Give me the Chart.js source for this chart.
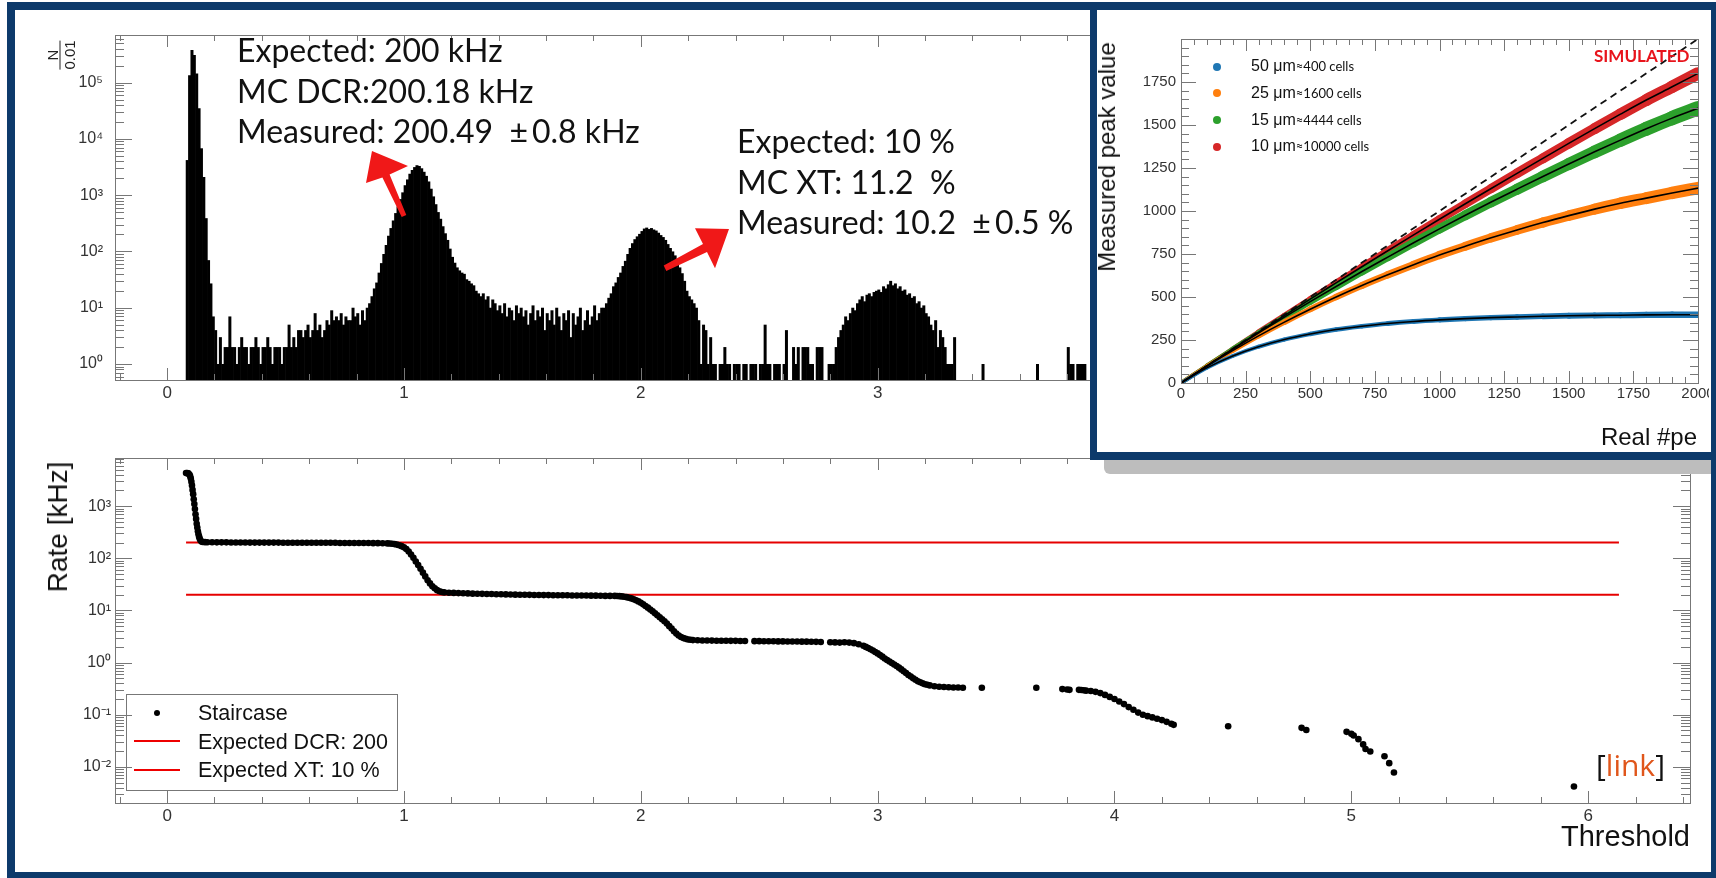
<!DOCTYPE html>
<html>
<head>
<meta charset="utf-8">
<script src="https://cdn.jsdelivr.net/npm/chart.js@4.4.1/dist/chart.umd.min.js"></script>
<style>
  body { margin: 0; background: #fff; }
  #page { position: relative; width: 1716px; height: 878px; overflow: hidden; background: #fff;
          font-family: 'Liberation Sans', Arial, sans-serif; color: #111; }
  .abs { position: absolute; white-space: nowrap; }
  .rot { transform: translate(-50%, -50%) rotate(-90deg); }
  .note { font-family: Lato, sans-serif; font-size: 32px; line-height: 40.5px; color: #111; }
  #frame { left: 7px; top: 2px; width: 1709px; height: 876px; box-sizing: border-box;
           border: solid #0d3a6b; border-width: 8px 5px 6px 8px; }
  #shadow { left: 1104px; top: 452px; width: 612px; height: 22px; background: #bdbdbd; border-bottom-left-radius: 6px; }
  #insetBox { left: 1090px; top: 2px; width: 626px; height: 458px; box-sizing: border-box; background: #fff;
              border: solid #0d3a6b; border-width: 7px 5px 8px 7px; }
  .leg { font-size: 21.5px; line-height: 22px; color: #111; }
  .pe { font-size: 16px; line-height: 20px; color: #111; }
  .pe small { font-family: Lato, sans-serif; font-size: 13px; }
  .dot { width: 8px; height: 8px; border-radius: 50%; }
</style>
</head>
<body>
<div id="page">
  <canvas id="hist" class="abs" style="left:0;top:0" width="1716" height="430"></canvas>
  <canvas id="stair" class="abs" style="left:0;top:430px" width="1716" height="448"></canvas>

  <!-- red hand-drawn arrows -->
  <svg class="abs" style="left:0;top:0" width="1716" height="430">
    <polygon fill="#f01818" points="401.7,217 382.4,177.6 366,183 372,151 408,166 389.6,174.4 406.3,215"/>
    <polygon fill="#f01818" points="663.7,265.6 703,244 695,228.3 729,229 715,268.3 707,252 666.3,271"/>
  </svg>

  <div class="abs rot" style="left:60px;top:55px;font-size:15px;color:#222">
    <div style="display:inline-flex;flex-direction:column;align-items:center;line-height:15px">
      <span>N</span><span style="border-top:1.5px solid #222;padding-top:1px">0.01</span>
    </div>
  </div>

  <div class="abs note" style="left:237px;top:30px">
    Expected: 200 kHz<br>MC DCR:200.18 kHz<br>Measured: 200.49&nbsp; ±&#8201;0.8 kHz
  </div>
  <div class="abs note" style="left:737px;top:121px">
    Expected: 10 %<br>MC XT: 11.2&nbsp; %<br>Measured: 10.2&nbsp; ±&#8201;0.5 %
  </div>

  <div class="abs rot" style="left:58px;top:527px;font-size:28px">Rate [kHz]</div>
  <div class="abs" style="right:26px;top:822px;font-size:29px;line-height:29px">Threshold</div>

  <!-- staircase legend -->
  <div class="abs" style="left:126px;top:694px;width:272px;height:97px;box-sizing:border-box;border:1.5px solid #777"></div>
  <div class="abs" style="left:153.7px;top:709.7px;width:6.6px;height:6.6px;border-radius:50%;background:#000"></div>
  <div class="abs" style="left:134px;top:740px;width:46px;height:2px;background:#e00"></div>
  <div class="abs" style="left:134px;top:769px;width:46px;height:2px;background:#e00"></div>
  <div class="abs leg" style="left:198px;top:701.7px">Staircase</div>
  <div class="abs leg" style="left:198px;top:730.7px">Expected DCR: 200</div>
  <div class="abs leg" style="left:198px;top:759.2px">Expected XT: 10 %</div>

  <div class="abs" style="left:1596px;top:750px;font-family:'Open Sans',sans-serif;font-size:30px;line-height:30px;color:#111">[<span style="color:#e0561b">link</span>]</div>

  <!-- inset -->
  <div id="shadow" class="abs"></div>
  <div id="insetBox" class="abs"></div>
  <canvas id="peak" class="abs" style="left:1097px;top:9px" width="612" height="443"></canvas>
  <div class="abs rot" style="left:1107px;top:157px;font-size:24px">Measured peak value</div>
  <div class="abs" style="right:19px;top:425px;font-size:24px;line-height:24px">Real #pe</div>
  <div class="abs" style="left:1594px;top:47px;font-family:Lato,sans-serif;font-weight:bold;font-size:17px;line-height:17px;color:#e8141c">SIMULATED</div>
  <div id="peLegend"></div>

  <div id="frame" class="abs"></div>
</div>

<script>
// ---- histogram (top) : counts per 0.01 bin, first bin starts at 0.08
var histStart = 0.08;
var histBin = 0.01;
var histCounts = [
  4200, 135000, 380000, 310000, 145000, 35000, 6800, 2100, 390, 70,   // 0.08
  27, 7, 4, 1, 3, 1, 2, 2, 7, 2,                                      // 0.18
  2, 1, 2, 3, 2, 2, 1, 2, 2, 3,                                       // 0.28
  2, 1, 2, 2, 3, 2, 1, 2, 2, 2,                                       // 0.38
  1, 2, 2, 5, 2, 3, 2, 4, 4, 3,                                       // 0.48
  4, 5, 3, 4, 8, 4, 5, 3, 4, 6,                                       // 0.58
  5, 9, 6, 7, 6, 8, 5, 7, 6, 6,                                       // 0.68
  10, 7, 8, 5, 9, 6, 10, 12, 16, 22,                                  // 0.78
  28, 42, 62, 90, 130, 190, 260, 355, 480, 630,                       // 0.88
  850, 1120, 1500, 1900, 2400, 2800, 3150, 3400, 3300, 3000,          // 0.98
  2600, 2200, 1750, 1300, 950, 690, 500, 380, 280, 210,               // 1.08
  160, 112, 80, 63, 52, 46, 42, 40, 32, 30,                           // 1.18
  27, 25, 20, 18, 16, 18, 14, 16, 10, 14,                             // 1.28
  12, 9, 11, 8, 12, 7, 10, 9, 6, 11,                                  // 1.38
  8, 10, 7, 9, 5, 8, 11, 6, 9, 7,                                     // 1.48
  10, 4, 8, 6, 9, 5, 10, 7, 4, 8,                                     // 1.58
  6, 9, 3, 8, 5, 7, 10, 4, 6, 9,                                      // 1.68
  5, 7, 11, 6, 8, 10, 10, 12, 15, 18,                                 // 1.78
  24, 28, 35, 42, 55, 68, 90, 115, 140, 165,                          // 1.88
  185, 205, 230, 255, 265, 250, 260, 245, 235, 215,                   // 1.98
  195, 180, 160, 135, 115, 100, 85, 68, 52, 41,                       // 2.08
  30, 20, 16, 14, 12, 10, 6, 1, 5, 4,                                 // 2.18
  1, 3, 1, 1, 0, 1, 1, 2, 1, 1,                                       // 2.28
  0, 1, 1, 1, 0, 1, 1, 0, 1, 1,                                       // 2.38
  1, 0, 1, 1, 5, 1, 1, 0, 1, 1,                                       // 2.48
  1, 0, 1, 4, 0, 0, 2, 1, 2, 0,                                       // 2.58
  2, 2, 2, 1, 1, 0, 2, 2, 2, 0,                                       // 2.68
  0, 1, 1, 1, 2, 3, 4, 5, 7, 6,                                       // 2.78
  8, 10, 9, 12, 14, 16, 13, 17, 18, 16,                               // 2.88
  19, 20, 21, 19, 24, 22, 26, 30, 25, 27,                             // 2.98
  22, 24, 20, 21, 17, 18, 15, 16, 12, 13,                             // 3.08
  10, 11, 8, 7, 5, 4, 6, 2, 4, 3,                                     // 3.18
  2, 1, 1, 1, 3, 0, 0, 0, 0, 0,                                       // 3.28
  0, 0, 0, 0, 0, 0, 1, 0, 0, 0,                                       // 3.38
  0, 0, 0, 0, 0, 0, 0, 0, 0, 0,                                       // 3.48
  0, 0, 0, 0, 0, 0, 0, 0, 0, 1,                                       // 3.58
  0, 0, 0, 0, 0, 0, 0, 0, 0, 0,                                       // 3.68
  0, 0, 2, 1, 1, 0, 1, 1, 1, 1                                        // 3.78
];

// ---- staircase (bottom) : [threshold, rate kHz]
var staircase = [
  [0.080,4300],[0.085,4300],[0.090,4250],[0.095,4000],[0.0975,3750],[0.100,3400],[0.1025,2950],[0.105,2500],
  [0.1075,2050],[0.110,1700],[0.1125,1350],[0.115,1100],[0.1175,880],[0.120,700],[0.1225,570],[0.125,460],
  [0.1275,390],[0.130,330],[0.1325,290],[0.135,260],[0.1375,240],[0.140,225],[0.145,210],[0.150,205],
  [0.16,204],[0.17,203],[0.19,203],[0.21,202],[0.23,202],[0.25,202],[0.27,201],[0.29,201],[0.31,201],[0.33,201],
  [0.35,200],[0.37,200],[0.39,200],[0.41,200],[0.43,200],[0.45,200],[0.47,200],[0.49,199],[0.51,199],
  [0.53,199],[0.55,199],[0.57,199],[0.59,199],[0.61,198],[0.63,198],[0.65,198],[0.67,198],[0.69,198],
  [0.71,198],[0.73,197],[0.75,197],[0.77,197],[0.79,196],[0.81,196],[0.83,196],[0.85,196],[0.87,195],
  [0.89,195],[0.91,194],[0.93,193],
  [0.94,192],[0.95,190],[0.96,187],[0.97,183],[0.98,178],[0.99,171],[1.00,162],[1.01,150],[1.02,135],
  [1.03,118],[1.04,102],[1.05,87],[1.06,74],[1.07,63],[1.08,53],[1.09,45],[1.10,38],[1.11,33],[1.12,29],
  [1.13,26.5],[1.14,24.5],[1.15,23.3],[1.16,22.6],[1.17,22.2],
  [1.19,21.9],[1.21,21.7],[1.23,21.5],[1.25,21.3],[1.27,21.2],[1.29,21.0],[1.31,20.9],[1.33,20.8],
  [1.35,20.7],[1.37,20.6],[1.39,20.5],[1.41,20.4],[1.43,20.3],[1.45,20.2],[1.47,20.1],[1.49,20.0],
  [1.51,20.0],[1.53,19.9],[1.55,19.8],[1.57,19.8],[1.59,19.7],[1.61,19.7],[1.63,19.6],[1.65,19.6],
  [1.67,19.5],[1.69,19.5],[1.71,19.4],[1.73,19.4],[1.75,19.3],[1.77,19.3],[1.79,19.2],[1.81,19.2],
  [1.83,19.1],[1.85,19.0],[1.87,19.0],
  [1.89,19.0],[1.90,18.9],[1.91,18.8],[1.92,18.6],[1.93,18.3],[1.94,18.0],[1.95,17.5],[1.96,17.0],
  [1.97,16.4],[1.98,15.7],[1.99,14.9],[2.00,14.0],[2.01,13.1],[2.02,12.2],[2.03,11.3],[2.04,10.4],
  [2.05,9.6],[2.06,8.8],[2.07,8.1],[2.08,7.4],[2.09,6.8],[2.10,6.2],[2.11,5.6],[2.12,5.0],[2.13,4.5],
  [2.14,4.0],[2.15,3.6],[2.16,3.3],[2.17,3.1],[2.18,2.95],[2.19,2.85],[2.20,2.78],[2.21,2.74],[2.22,2.7],
  [2.24,2.68],[2.26,2.66],[2.28,2.65],[2.30,2.64],[2.32,2.63],[2.34,2.62],[2.36,2.62],[2.38,2.61],
  [2.40,2.61],[2.42,2.60],[2.44,2.60],[2.48,2.58],[2.50,2.58],[2.52,2.57],[2.54,2.56],[2.56,2.56],
  [2.58,2.55],[2.60,2.55],[2.62,2.54],[2.64,2.54],[2.66,2.53],[2.68,2.52],[2.70,2.52],[2.72,2.51],
  [2.74,2.50],[2.76,2.49],[2.80,2.46],[2.82,2.44],[2.84,2.42],
  [2.86,2.45],[2.88,2.42],[2.90,2.36],[2.92,2.25],[2.94,2.1],[2.95,2.0],[2.96,1.9],[2.97,1.8],[2.98,1.7],
  [2.99,1.6],[3.00,1.5],[3.01,1.4],[3.02,1.3],[3.03,1.2],[3.04,1.12],[3.05,1.05],[3.06,0.98],[3.07,0.92],
  [3.08,0.86],[3.09,0.8],[3.10,0.74],[3.11,0.68],[3.12,0.63],[3.13,0.58],[3.14,0.54],[3.15,0.5],
  [3.16,0.47],[3.17,0.44],[3.18,0.42],[3.19,0.4],[3.20,0.385],[3.21,0.375],[3.22,0.365],[3.24,0.352],
  [3.26,0.345],[3.28,0.34],[3.30,0.337],[3.32,0.334],[3.34,0.332],[3.36,0.33],
  [3.44,0.33],[3.67,0.33],[3.78,0.31],[3.80,0.305],[3.81,0.30],[3.85,0.30],[3.86,0.298],[3.87,0.295],
  [3.88,0.29],[3.90,0.285],[3.92,0.275],[3.94,0.26],[3.96,0.24],[3.98,0.22],[4.00,0.2],[4.02,0.18],
  [4.04,0.16],[4.06,0.14],[4.08,0.125],[4.10,0.11],[4.12,0.1],[4.14,0.094],[4.16,0.089],[4.18,0.084],
  [4.20,0.079],[4.22,0.073],[4.24,0.067],[4.25,0.064],
  [4.48,0.06],[4.79,0.056],[4.81,0.051],[4.98,0.047],[5.00,0.043],[5.01,0.04],[5.03,0.034],[5.05,0.027],
  [5.06,0.022],[5.08,0.0197],[5.14,0.016],[5.16,0.0118],[5.18,0.0078],[5.94,0.0042]
];
var refRange = [0.08, 6.13];   // threshold span of the two expected lines
var dcrExpected = 200;
var xtExpected = 20;

// ---- inset : measured peak value vs real #pe
var peX   = [0, 100, 200, 300, 400, 500, 600, 700, 800, 900, 1000, 1100, 1200, 1300, 1400, 1500, 1600, 1700, 1800, 1900, 2000];
var pe50  = [0, 88, 157, 211, 253, 285, 311, 330, 346, 358, 367, 374, 380, 384, 388, 391, 393, 394, 396, 397, 397];
var pe25  = [0, 97, 188, 274, 354, 429, 500, 567, 629, 688, 744, 795, 844, 890, 933, 973, 1011, 1045, 1075, 1105, 1133];
var pe15  = [0, 99, 196, 290, 383, 473, 561, 648, 732, 815, 896, 975, 1052, 1127, 1201, 1273, 1344, 1412, 1478, 1540, 1597];
var pe10  = [0, 100, 198, 296, 392, 488, 582, 676, 769, 861, 952, 1042, 1131, 1219, 1306, 1393, 1479, 1563, 1645, 1722, 1800];
var peNames = ['50', '25', '15', '10'];
var peCells = ['≈400 cells', '≈1600 cells', '≈4444 cells', '≈10000 cells'];
var peColors = ['#1f77b4', '#ff7f0e', '#2ca02c', '#d62728'];
var peSpread = [3, 9, 11, 9];   // how much the noisy band widens towards 2000
var diagX = [0, 2000];
var diagY = [0, 2000];

Chart.defaults.font.family = "'Liberation Sans', Arial, sans-serif";
Chart.defaults.color = '#333';
Chart.defaults.animation = false;

var SUP = { '0': '⁰', '1': '¹', '2': '²', '3': '³', '4': '⁴', '5': '⁵', '6': '⁶', '7': '⁷', '8': '⁸', '9': '⁹', '-': '⁻' };
function logLabel(v) {
  var e = Math.log10(v);
  if (Math.abs(e - Math.round(e)) > 1e-6) return '';
  return '10' + String(Math.round(e)).split('').map(function (c) { return SUP[c]; }).join('');
}
function numLabel(v) { return Math.abs(v) < 1e-9 ? '0' : String(v); }

// fixed axis sizes so the plot areas land where they are in the picture
function fixSize(w, h) {
  return function (s) {
    if (w != null) s.width = w;
    if (h != null) s.height = h;
    s.paddingLeft = s.paddingRight = s.paddingTop = s.paddingBottom = 0;
  };
}

// ROOT style frame with inward ticks on all four sides
var rootAxes = {
  id: 'rootAxes',
  afterDatasetsDraw: function (chart, args, o) {
    var ctx = chart.ctx, a = chart.chartArea, xs = chart.scales.x, ys = chart.scales.y;
    ctx.save();
    ctx.strokeStyle = '#777';
    ctx.lineWidth = 1;
    ctx.beginPath();
    var n0 = Math.ceil(xs.min / o.xStep - 1e-6), n1 = Math.floor(xs.max / o.xStep + 1e-6);
    for (var i = n0; i <= n1; i++) {
      var px = Math.round(xs.getPixelForValue(i * o.xStep)) + 0.5;
      var len = (i % o.xEvery === 0) ? o.xLen[0] : o.xLen[1];
      ctx.moveTo(px, a.bottom); ctx.lineTo(px, a.bottom - len);
      ctx.moveTo(px, a.top); ctx.lineTo(px, a.top + len);
    }
    var ticks = [];
    if (o.yLog) {
      for (var e = Math.floor(Math.log10(ys.min)); e <= Math.ceil(Math.log10(ys.max)); e++) {
        for (var m = 1; m < 10; m++) {
          var v = m * Math.pow(10, e);
          if (v >= ys.min && v <= ys.max) ticks.push([v, m === 1]);
        }
      }
    } else {
      for (var j = Math.ceil(ys.min / o.yStep); j <= Math.floor(ys.max / o.yStep); j++) ticks.push([j * o.yStep, j % o.yEvery === 0]);
    }
    ticks.forEach(function (t) {
      var py = Math.round(ys.getPixelForValue(t[0])) + 0.5;
      var len = t[1] ? o.yLen[0] : o.yLen[1];
      ctx.moveTo(a.left, py); ctx.lineTo(a.left + len, py);
      ctx.moveTo(a.right, py); ctx.lineTo(a.right - len, py);
    });
    ctx.stroke();
    ctx.strokeRect(Math.round(a.left) + 0.5, Math.round(a.top) + 0.5, Math.round(a.right - a.left), Math.round(a.bottom - a.top));
    ctx.restore();
  }
};

var thrMin = -0.22, thrMax = 6.43;

// top histogram
var histData = [];
for (var i = 0; i < histCounts.length; i++) {
  if (histCounts[i] > 0) histData.push({ x: histStart + (i + 0.5) * histBin, y: histCounts[i] });
}
new Chart(document.getElementById('hist'), {
  type: 'bar',
  data: { datasets: [{ data: histData, backgroundColor: '#000', borderWidth: 0, barThickness: 3, inflateAmount: 0 }] },
  options: {
    responsive: false,
    layout: { padding: { top: 35, right: 26, left: 0, bottom: 0 } },
    plugins: {
      legend: { display: false }, tooltip: { enabled: false },
      rootAxes: { xStep: 0.2, xEvery: 5, xLen: [12, 6], yLog: true, yLen: [17, 9] }
    },
    scales: {
      x: {
        type: 'linear', min: thrMin, max: thrMax, offset: false,
        grid: { display: false, drawTicks: false }, border: { display: false },
        afterFit: fixSize(null, 50),
        ticks: { stepSize: 1, includeBounds: false, autoSkip: false, maxRotation: 0, padding: 3, font: { size: 17 }, callback: numLabel }
      },
      y: {
        type: 'logarithmic', min: 0.52, max: 7e5,
        grid: { display: false, drawTicks: false }, border: { display: false },
        afterFit: fixSize(115, null),
        ticks: { autoSkip: false, padding: 12, font: { size: 16 }, callback: logLabel }
      }
    }
  },
  plugins: [rootAxes]
});

// bottom staircase
new Chart(document.getElementById('stair'), {
  type: 'scatter',
  data: {
    datasets: [
      { data: staircase.map(function (p) { return { x: p[0], y: p[1] }; }),
        pointRadius: 3.3, pointBackgroundColor: '#000', pointBorderWidth: 0, showLine: false },
      { data: refRange.map(function (t) { return { x: t, y: dcrExpected }; }),
        showLine: true, borderColor: '#e60000', borderWidth: 2, pointRadius: 0 },
      { data: refRange.map(function (t) { return { x: t, y: xtExpected }; }),
        showLine: true, borderColor: '#e60000', borderWidth: 2, pointRadius: 0 }
    ]
  },
  options: {
    responsive: false,
    layout: { padding: { top: 28, right: 26, left: 0, bottom: 0 } },
    plugins: {
      legend: { display: false }, tooltip: { enabled: false },
      rootAxes: { xStep: 0.2, xEvery: 5, xLen: [12, 6], yLog: true, yLen: [17, 9] }
    },
    scales: {
      x: {
        type: 'linear', min: thrMin, max: thrMax,
        grid: { display: false, drawTicks: false }, border: { display: false },
        afterFit: fixSize(null, 75),
        ticks: { stepSize: 1, includeBounds: false, autoSkip: false, maxRotation: 0, padding: 3, font: { size: 17 }, callback: numLabel }
      },
      y: {
        type: 'logarithmic', min: 0.00203, max: 8380,
        grid: { display: false, drawTicks: false }, border: { display: false },
        afterFit: fixSize(115, null),
        ticks: { autoSkip: false, padding: 4, font: { size: 16 }, callback: logLabel }
      }
    }
  },
  plugins: [rootAxes]
});

// inset
var peSeries = [pe50, pe25, pe15, pe10];
var peSets = [];
peSeries.forEach(function (s) {
  peSets.push({ data: peX.map(function (x, k) { return { x: x, y: s[k] }; }), showLine: true,
    borderColor: '#000', borderWidth: 1.6, pointRadius: 0, cubicInterpolationMode: 'monotone' });
});
peSets.push({ data: diagX.map(function (x, k) { return { x: x, y: diagY[k] }; }), showLine: true,
  borderColor: '#111', borderWidth: 1.8, borderDash: [7, 5], pointRadius: 0 });
peSeries.forEach(function (s, n) {
  peSets.push({ data: peX.map(function (x, k) { return { x: x, y: s[k] }; }), showLine: true,
    borderColor: peColors[n], pointRadius: 0, borderCapStyle: 'round', borderJoinStyle: 'round',
    cubicInterpolationMode: 'monotone',
    segment: { borderWidth: function (c) { return 3.5 + peSpread[n] * c.p1.parsed.x / 2000; } } });
});

new Chart(document.getElementById('peak'), {
  type: 'scatter',
  data: { datasets: peSets },
  options: {
    responsive: false,
    layout: { padding: { top: 30, right: 11, left: 0, bottom: 0 } },
    plugins: {
      legend: { display: false }, tooltip: { enabled: false },
      rootAxes: { xStep: 50, xEvery: 5, xLen: [12, 6], yLog: false, yStep: 50, yEvery: 5, yLen: [15, 8] }
    },
    scales: {
      x: {
        type: 'linear', min: 0, max: 2000,
        grid: { display: false, drawTicks: false }, border: { display: false },
        afterFit: fixSize(null, 69),
        ticks: { stepSize: 250, autoSkip: false, maxRotation: 0, padding: 2, font: { size: 15 }, callback: numLabel }
      },
      y: {
        type: 'linear', min: 0, max: 2000,
        grid: { display: false, drawTicks: false }, border: { display: false },
        afterFit: fixSize(84, null),
        ticks: { stepSize: 250, autoSkip: false, padding: 5, font: { size: 15 },
          callback: function (v) { return v >= 2000 ? '' : numLabel(v); } }
      }
    }
  },
  plugins: [rootAxes]
});

// inset legend
var leg = [];
peNames.forEach(function (name, n) {
  var cy = 66.7 + 26.7 * n;
  leg.push('<div class="abs dot" style="left:' + (1212.7) + 'px;top:' + (cy - 4) + 'px;background:' + peColors[n] + '"></div>');
  leg.push('<div class="abs pe" style="left:1251px;top:' + (cy - 10.5) + 'px">' + name + ' μm<small>' + peCells[n] + '</small></div>');
});
document.getElementById('peLegend').innerHTML = leg.join('');
</script>
</body>
</html>
